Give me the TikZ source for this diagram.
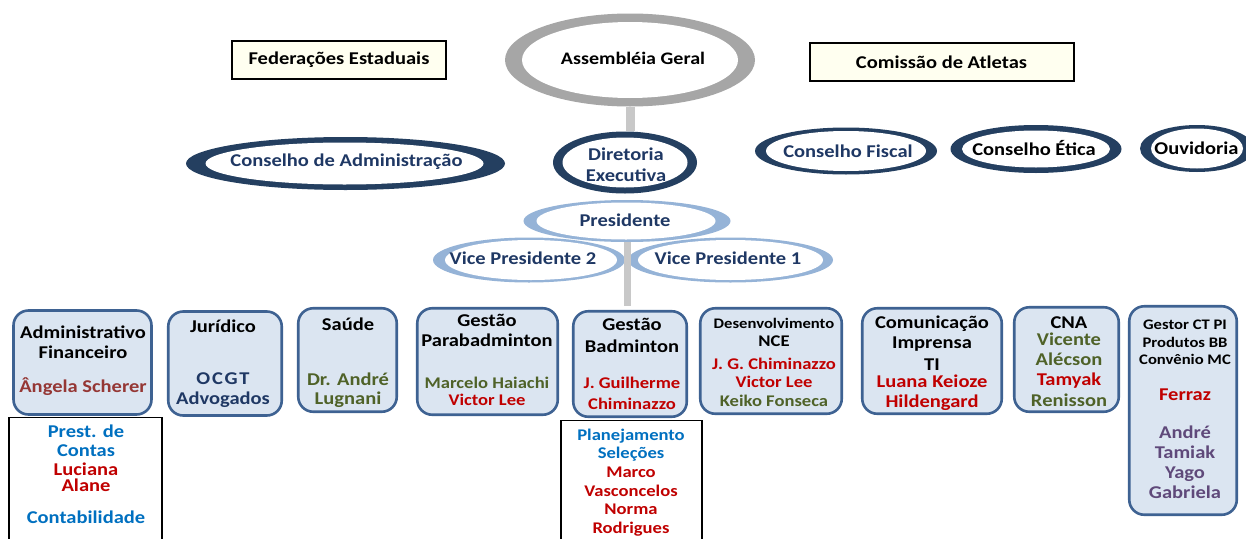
\documentclass[tikz,border=0pt]{standalone}
\usepackage{fontspec}
\setmainfont{Carlito}[FakeStretch=1.14]
\usetikzlibrary{shapes.geometric,backgrounds}
\definecolor{navy}{HTML}{1F3864}
\definecolor{ringnavy}{HTML}{243F60}
\definecolor{ringlight}{HTML}{95B3D7}
\definecolor{ringgray}{HTML}{A6A6A6}
\definecolor{bargray}{HTML}{C8C8C8}
\definecolor{boxfill}{HTML}{DBE5F1}
\definecolor{boxline}{HTML}{3E6292}
\definecolor{cream}{HTML}{FFFFF0}
\definecolor{tgreen}{HTML}{4F6228}
\definecolor{tred}{HTML}{C00000}
\definecolor{tbrown}{HTML}{953735}
\definecolor{tpurple}{HTML}{5F497A}
\definecolor{tblue}{HTML}{0070C0}
\newcommand\fsmid{\fontsize{16.3}{18}\selectfont}
\newcommand\fssmall{\fontsize{14.6}{20}\selectfont}
\begin{document}
\lineskiplimit=-100pt
\begin{tikzpicture}[x=1pt,y=-1pt,
  lbl/.style 2 args={inner sep=0pt, align=center, font=\bfseries\fontsize{#1}{#2}\selectfont},
  ring/.style n args={6}{shape=ellipse, inner sep=0pt, fill=#1, minimum width=#2pt, minimum height=#3pt,
    path picture={\fill[white] ([xshift=#6pt]path picture bounding box.center) ellipse [x radius=#4pt, y radius=#5pt];}},
  plainbox/.style={draw=black, line width=2pt, fill=cream, inner sep=0pt, lbl={18}{21}},
  dept/.style={draw=boxline, line width=2.6pt, fill=boxfill, rounded corners=15pt, inner sep=0pt},
  sub/.style={draw=black, line width=1.3pt, fill=white, inner sep=0pt},
  link/.style={draw=bargray, line width=#1},
]
\useasboundingbox (0,0) rectangle (1246,538);
\fill[white] (0,0) rectangle (1246,538);

% horizontal bar
\begin{scope}[on background layer]
\coordinate (barL) at (56,306);
\coordinate (barR) at (1192,306);
\draw[link=6pt] (barL) -- (barR);
\end{scope}

% top boxes
\node[plainbox, minimum width=214, minimum height=38] (fed) at (339,60) {Federações Estaduais};
\node[plainbox, minimum width=264, minimum height=38] (cat) at (941.5,62) {Comissão de Atletas};

% ring ellipses
\node[ring={ringgray}{250}{93}{108}{38}{0}] (asmE) at (630,60) {};
\node[lbl={17.6}{21}] (asmT) at (633,58.5) {Assembléia Geral};

\node[ring={ringnavy}{144}{62}{62.5}{25}{0}] (dirE) at (625,162.5) {};
\node[lbl={18}{21}, text=navy] (dirT) at (626,164.5) {Diretoria\\Executiva};
\draw[link=9pt] (asmE.south) -- (asmE.south |- dirE.north);

\node[ring={ringnavy}{319}{53}{139}{21}{-1}] (cadmE) at (345.5,163.5) {};
\node[lbl={18}{21}, text=navy] (cadmT) at (346.5,162) {Conselho de Administração};

\node[ring={ringnavy}{182}{47}{80}{20}{0}] (cfisE) at (846,151) {};
\node[lbl={18}{21}, text=navy] (cfisT) at (848,151.5) {Conselho Fiscal};

\node[ring={ringnavy}{171}{48}{74}{18.5}{0}] (cetE) at (1036,149) {};
\node[lbl={18}{21}] (cetT) at (1034,148) {Conselho Ética};

\node[ring={ringnavy}{114}{47}{46}{20}{0}] (ouvE) at (1197,148.5) {};
\node[lbl={18}{21}] (ouvT) at (1196.5,148.5) {Ouvidoria};

\node[ring={ringlight}{192}{45}{86}{20}{2}] (vp2E) at (529,260) {};
\node[lbl={18}{21}, text=navy] (vp2T) at (523,258) {Vice Presidente 2};
\node[ring={ringlight}{205}{45}{92.5}{20}{0}] (vp1E) at (730.5,260) {};
\node[lbl={18}{21}, text=navy] (vp1T) at (728,258) {Vice Presidente 1};

\node[ring={ringlight}{207}{42}{89.5}{18.5}{-1}] (presE) at (627,221) {};
\node[lbl={18}{21}, text=navy] (presT) at (625,220) {Presidente};
\draw[link=7pt] (presE.south) -- (presE.south |- barL);

% sub boxes
\node[sub, minimum width=153, minimum height=130, anchor=north] (prest) at (85.5,417) {};
\node[lbl={18}{19}, anchor=north] (prestT) at (86,423.7) {\strut{\color{tblue}Prest. de}\\{\color{tblue}Contas}\\{\color{tred}Luciana}\\[-3pt]{\color{tred}Alane}\\[13pt]{\color{tblue}Contabilidade}};

\node[sub, minimum width=141, minimum height=130, anchor=north] (plan) at (631.5,420) {};
\node[lbl={16.3}{18.6}, anchor=north] (planT) at (631,427) {\strut{\color{tblue}Planejamento}\\{\color{tblue}Seleções}\\{\color{tred}Marco}\\{\color{tred}Vasconcelos}\\{\color{tred}Norma}\\{\color{tred}Rodrigues}};

% department boxes
\node[dept, minimum width=138, minimum height=104] (adm) at (82.5,362.5) {};
\node[lbl={18}{20}, anchor=north] (admT) at (83,324) {\strut Administrativo\\Financeiro\\[14pt]{\color{tbrown}Ângela Scherer}};

\node[dept, minimum width=113.5, minimum height=104] (jur) at (225,363.5) {};
\node[lbl={18}{20}, anchor=north] (jurT) at (223,318) {\strut Jurídico\\[32pt]{\color{navy}\addfontfeature{LetterSpace=10}OCGT}\\{\color{navy}Advogados}};

\node[dept, minimum width=98.5, minimum height=103.5] (sau) at (347.5,360) {};
\node[lbl={18}{20}, anchor=north] (sauT) at (348,316) {\strut Saúde\\[35pt]{\color{tgreen}Dr. André}\\[-1pt]{\color{tgreen}Lugnani}};

\node[dept, minimum width=140.5, minimum height=106.5] (gpara) at (487.5,361.5) {};
\node[lbl={18}{20}, anchor=north] (gparaT) at (487,312) {\strut Gestão\\Parabadminton\\[22pt]{\fsmid\color{tgreen}Marcelo Haiachi}\\[-3pt]{\fsmid\color{tred}Victor Lee}};

\node[dept, minimum width=113.5, minimum height=105.5] (gbad) at (630,364) {};
\node[lbl={18}{21}, anchor=north] (gbadT) at (632,315.3) {\strut Gestão\\[1pt]Badminton\\[15pt]{\fsmid\color{tred}J. Guilherme}\\{\fsmid\color{tred}Chiminazzo}};

\node[dept, minimum width=141.5, minimum height=105.5] (nce) at (771,361) {};
\node[lbl={18}{18}, anchor=north] (nceT) at (774,315.4) {{\fontsize{14.6}{18}\selectfont\strut Desenvolvimento}\\{\fsmid NCE}\\[5pt]{\fsmid\color{tred}J. G. Chiminazzo}\\{\fsmid\color{tred}Victor Lee}\\[1pt]{\fsmid\color{tgreen}Keiko Fonseca}};

\node[dept, minimum width=139.5, minimum height=105.5] (com) at (932,361) {};
\node[lbl={18}{20}, anchor=north] (comT) at (932,314) {\strut Comunicação\\Imprensa\\[2pt]TI\\[-3pt]{\color{tred}Luana Keioze}\\{\color{tred}Hildengard}};

\node[dept, minimum width=104.5, minimum height=104.5] (cna) at (1066.5,359.5) {};
\node[lbl={18}{20}, anchor=north] (cnaT) at (1069,314) {\strut CNA\\[-3pt]{\color{tgreen}Vicente}\\{\color{tgreen}Alécson}\\{\color{tred}Tamyak}\\[1pt]{\color{tgreen}Renisson}};

\node[dept, minimum width=107.5, minimum height=208.5] (gct) at (1183,410.5) {};
\node[lbl={18}{20}, anchor=north] (gctT) at (1185,315) {{\fssmall\strut Gestor CT PI}\\[-2pt]{\fssmall Produtos BB}\\[-3pt]{\fssmall Convênio MC}\\[16pt]{\color{tred}Ferraz}\\[18pt]{\color{tpurple}André}\\{\color{tpurple}Tamiak}\\{\color{tpurple}Yago}\\{\color{tpurple}Gabriela}};
\end{tikzpicture}
\end{document}
